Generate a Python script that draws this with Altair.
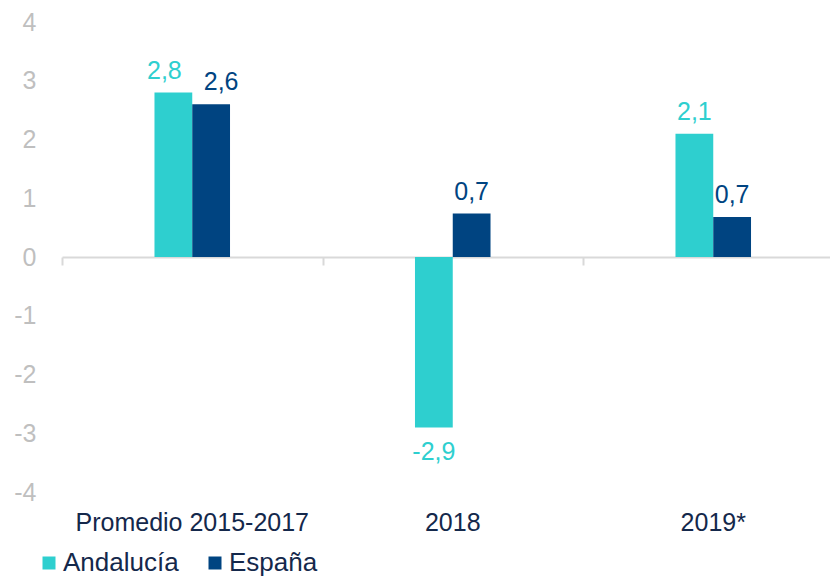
import altair as alt
import pandas as pd

categories = ["Promedio 2015-2017", "2018", "2019*"]
series = ["Andalucía", "España"]
andalucia = [2.8, -2.9, 2.1]
espana = [2.6, 0.74, 0.68]
y_ticks = [-4, -3, -2, -1, 0, 1, 2, 3, 4]
colors = ["#2ECFCF", "#004481"]

rows = []
for c, a, e in zip(categories, andalucia, espana):
    rows.append({"cat": c, "serie": series[0], "valor": a})
    rows.append({"cat": c, "serie": series[1], "valor": e})
df = pd.DataFrame(rows)

FONT = "Liberation Sans"
NAVY_TXT = "#14284B"
FS = 25
STEP = 260.5          # category width in px (last band runs past the page edge)
X_RANGE = [0, STEP * len(categories)]

# x scale for bars / labels (narrow bands)
x_enc = alt.X(
    "cat:N", sort=categories, title=None,
    scale=alt.Scale(paddingInner=0.71, paddingOuter=0.355, range=X_RANGE),
    axis=alt.Axis(orient="bottom", domain=False, ticks=False,
                  labelAngle=0, labelPadding=18, labelFontSize=FS, labelColor=NAVY_TXT,
                  labelFont=FONT, labelLimit=0),
)
# x scale for the zero line with ticks at category boundaries (full bands)
x_zero = alt.X(
    "cat:N", sort=categories, title=None,
    scale=alt.Scale(paddingInner=0, paddingOuter=0, range=X_RANGE),
    axis=alt.Axis(orient="bottom", offset=-235, domainColor="#D9D9D9", domainWidth=2,
                  tickColor="#D9D9D9", tickWidth=2, tickSize=8, tickBand="extent",
                  labels=False),
)
xoff_enc = alt.XOffset("serie:N", sort=series, scale=alt.Scale(paddingInner=0, paddingOuter=0))
y_enc = alt.Y(
    "valor:Q", title=None,
    scale=alt.Scale(domain=[-4, 4], nice=False, zero=True),
    axis=alt.Axis(values=y_ticks, grid=False, domain=False, ticks=False, labelPadding=26,
                  labelFontSize=FS, labelColor="#BFBFBF", labelFont=FONT,
                  labelExpr="toString(datum.value)"),
)
color_scale = alt.Scale(domain=series, range=colors)

bars = alt.Chart(df).mark_bar().encode(
    x=x_enc, xOffset=xoff_enc, y=y_enc,
    color=alt.Color("serie:N", sort=series, scale=color_scale,
                    legend=alt.Legend(title=None, orient="none", legendX=-26, legendY=528,
                                      direction="horizontal", symbolType="square",
                                      symbolSize=169, symbolStrokeWidth=0,
                                      labelFontSize=26, labelFont=FONT, labelColor=NAVY_TXT,
                                      columnPadding=23, labelOffset=1, labelLimit=0)),
)

base_text = alt.Chart(df).transform_calculate(
    label="replace(toString(round(datum.valor*10)/10), '.', ',')"
)


def text_layer(filter_expr, baseline, dy, dx=0):
    return base_text.transform_filter(filter_expr).mark_text(
        baseline=baseline, dy=dy, dx=dx, fontSize=FS, font=FONT
    ).encode(x=x_enc, xOffset=xoff_enc, y=y_enc, text="label:N",
             color=alt.Color("serie:N", sort=series, scale=color_scale, legend=None))


first = f"datum.cat == '{categories[0]}'"
pos_first_a = text_layer(f"{first} && datum.serie == '{series[0]}'", "alphabetic", -14, -9)
pos_first_e = text_layer(f"{first} && datum.serie == '{series[1]}'", "alphabetic", -14, 10)
pos_rest = text_layer(f"!({first}) && datum.valor >= 0", "alphabetic", -14)
neg = text_layer("datum.valor < 0", "top", 13)

main = alt.layer(bars, pos_first_a, pos_first_e, pos_rest, neg)
zero_axis = alt.Chart(df).mark_point(opacity=0).encode(x=x_zero, y=y_enc)

chart = alt.layer(zero_axis, main).resolve_scale(x="independent").properties(
    width=768, height=470,
    padding={"left": 54, "top": 14, "right": 0, "bottom": 86},
    autosize=alt.AutoSizeParams(type="none"),
).configure_view(stroke=None)

chart.save("out.html", embed_options={"renderer": "svg", "actions": False})
